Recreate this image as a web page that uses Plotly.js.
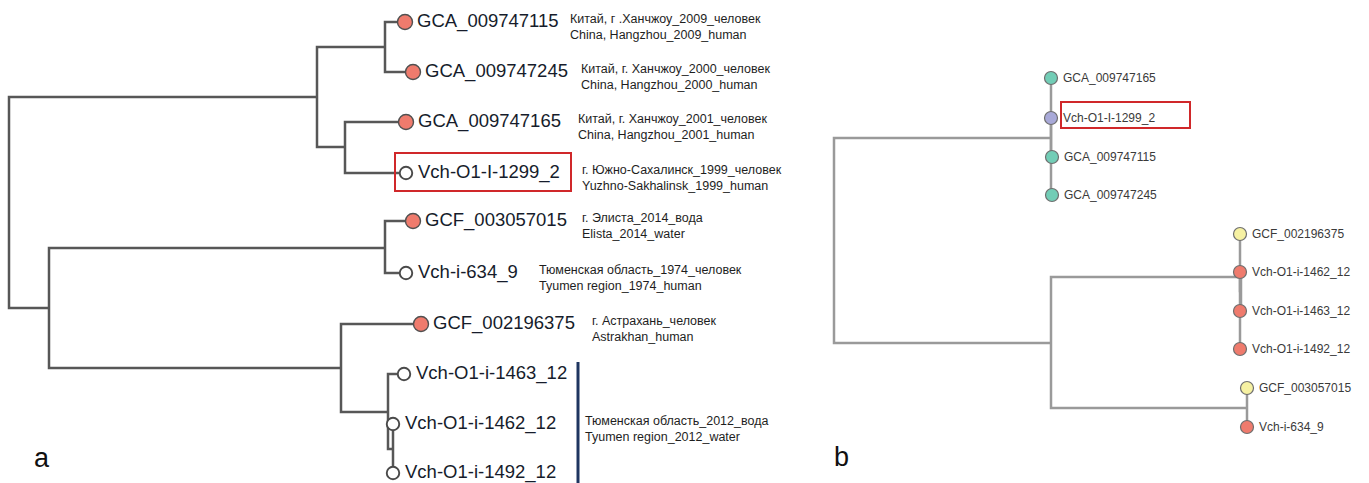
<!DOCTYPE html>
<html>
<head>
<meta charset="utf-8">
<script src="https://cdn.plot.ly/plotly-3.0.1.min.js"></script>
<style>
  html, body { margin: 0; padding: 0; background: #ffffff; }
  #chart { width: 1369px; height: 483px; }
</style>
</head>
<body>
<div id="chart"></div>
<script>
// ---- Tree a (rectangular cladogram, depth to the right, rows downward) ----
const aName = ['', '', '', '', '', '', '', '', '',
  'GCA_009747115', 'GCA_009747245', 'GCA_009747165', 'Vch-O1-I-1299_2',
  'GCF_003057015', 'Vch-i-634_9', 'GCF_002196375',
  'Vch-O1-i-1463_12', 'Vch-O1-i-1462_12', 'Vch-O1-i-1492_12'];
const aParent = [-1, 0, 1, 1, 0, 4, 4, 6, 7, 2, 2, 3, 3, 5, 5, 6, 7, 8, 8];
const aDepth = [9, 317, 385, 345, 49, 385, 341, 388, 393,
  405, 413, 406, 406, 413, 406, 421, 404, 393, 393];
const aRow = [200, 97, 47, 147, 308, 248, 368, 412, 449,
  22, 72, 122, 173, 221, 273, 324, 374, 424, 473];
// true = genome from the database (filled), false = own isolate (open)
const aFilled = [null, null, null, null, null, null, null, null, null,
  true, true, true, false, true, false, true, false, false, false];
const aDescRu = ['', '', '', '', '', '', '', '', '',
  'Китай, г .Ханчжоу_2009_человек', 'Китай, г. Ханчжоу_2000_человек',
  'Китай, г. Ханчжоу_2001_человек', 'г. Южно-Сахалинск_1999_человек',
  'г. Элиста_2014_вода', 'Тюменская область_1974_человек',
  'г. Астрахань_человек', '', 'Тюменская область_2012_вода', ''];
const aDescEn = ['', '', '', '', '', '', '', '', '',
  'China, Hangzhou_2009_human', 'China, Hangzhou_2000_human',
  'China, Hangzhou_2001_human', 'Yuzhno-Sakhalinsk_1999_human',
  'Elista_2014_water', 'Tyumen region_1974_human',
  'Astrakhan_human', '', 'Tyumen region_2012_water', ''];
// horizontal start of each description block
const aDescX = [0, 0, 0, 0, 0, 0, 0, 0, 0,
  568, 579, 576, 580, 580, 537, 590, 0, 583, 0];

// ---- Tree b ----
const bName = ['', '', '', '', '', '',
  'GCA_009747165', 'Vch-O1-I-1299_2', 'GCA_009747115', 'GCA_009747245',
  'GCF_002196375', 'Vch-O1-i-1462_12', 'Vch-O1-i-1463_12', 'Vch-O1-i-1492_12',
  'GCF_003057015', 'Vch-i-634_9'];
const bParent = [-1, 0, 0, 2, 3, 2, 1, 1, 1, 1, 3, 4, 4, 3, 5, 5];
const bDepth = [834, 1051, 1051, 1240, 1241, 1247,
  1051, 1051, 1052, 1052, 1240, 1240, 1240, 1240, 1247, 1247];
const bRow = [240, 138, 343, 277, 291, 408,
  78, 118, 157, 195, 234, 272, 311, 349, 388, 427];
const bGroup = ['', '', '', '', '', '',
  'china', 'sakhalin', 'china', 'china',
  'gcf', 'tyumen', 'tyumen', 'tyumen', 'gcf', 'tyumen'];

const groupColor = {
  china: '#72cdb6', sakhalin: '#a8a9d8', gcf: '#f6f1a2', tyumen: '#ef7b6d'
};

// L-shaped edges: down/up along the parent's depth, then across to the child
function edges(parent, depth, row) {
  const x = [], y = [];
  parent.forEach((p, i) => {
    if (p < 0) return;
    x.push(depth[p], depth[p], depth[i], null);
    y.push(row[p], row[i], row[i], null);
  });
  return { x, y };
}
function leaves(name) {
  return name.map((n, i) => n ? i : -1).filter(i => i >= 0);
}

const eA = edges(aParent, aDepth, aRow);
const eB = edges(bParent, bDepth, bRow);
const leafA = leaves(aName);
const leafB = leaves(bName);

const filledA = leafA.filter(i => aFilled[i]);
const openA = leafA.filter(i => !aFilled[i]);

const traces = [
  { type: 'scatter', mode: 'lines', x: eA.x, y: eA.y, hoverinfo: 'skip',
    line: { color: '#575757', width: 2.5 }, cliponaxis: false },
  { type: 'scatter', mode: 'lines', x: eB.x, y: eB.y, hoverinfo: 'skip',
    line: { color: '#9a9a9a', width: 2.5 }, cliponaxis: false },
  { type: 'scatter', mode: 'markers', cliponaxis: false,
    x: filledA.map(i => aDepth[i]), y: filledA.map(i => aRow[i]),
    marker: { size: 15, color: '#ef7b6d', line: { color: '#505050', width: 1.4 } } },
  { type: 'scatter', mode: 'markers', cliponaxis: false,
    x: openA.map(i => aDepth[i]), y: openA.map(i => aRow[i]),
    marker: { size: 12.5, color: '#ffffff', line: { color: '#4a4a4a', width: 1.9 } } },
  { type: 'scatter', mode: 'markers', cliponaxis: false,
    x: leafB.map(i => bDepth[i]), y: leafB.map(i => bRow[i]),
    marker: { size: 13, color: leafB.map(i => groupColor[bGroup[i]]),
      line: { color: '#6e6e6e', width: 1.2 } } }
];

const annotations = [];
leafA.forEach(i => {
  annotations.push({
    x: aDepth[i], y: aRow[i], xref: 'x', yref: 'y', text: aName[i],
    showarrow: false, xanchor: 'left', yanchor: 'middle', xshift: 10, yshift: 1,
    font: { family: 'Liberation Sans, Arial, sans-serif', size: 18.5, color: '#161c2b' }
  });
  if (aDescRu[i]) {
    annotations.push({
      x: aDescX[i], y: aRow[i], xref: 'x', yref: 'y',
      text: aDescRu[i] + '<br>' + aDescEn[i], align: 'left',
      showarrow: false, xanchor: 'left', yanchor: 'top', yshift: 12,
      font: { family: 'Liberation Sans Narrow, Arial Narrow, Liberation Sans, sans-serif',
        size: 12.5, color: '#1e1e1e' }
    });
  }
});
leafB.forEach(i => {
  annotations.push({
    x: bDepth[i], y: bRow[i], xref: 'x', yref: 'y', text: bName[i],
    showarrow: false, xanchor: 'left', yanchor: 'middle', xshift: 10,
    font: { family: 'Liberation Sans, Arial, sans-serif', size: 12, color: '#3a3a3a' }
  });
});
// panel letters
annotations.push(
  { x: 42, y: 458, xref: 'x', yref: 'y', text: 'a', showarrow: false,
    font: { family: 'Liberation Sans, Arial, sans-serif', size: 27, color: '#111111' } },
  { x: 841, y: 457, xref: 'x', yref: 'y', text: 'b', showarrow: false,
    font: { family: 'Liberation Sans, Arial, sans-serif', size: 27, color: '#111111' } }
);

const shapes = [
  // highlighted own isolate, tree a
  { type: 'rect', xref: 'x', yref: 'y', x0: 395, x1: 571, y0: 153, y1: 191,
    line: { color: '#d0282a', width: 2 } },
  // highlighted own isolate, tree b
  { type: 'rect', xref: 'x', yref: 'y', x0: 1061, x1: 1190, y0: 102, y1: 128,
    line: { color: '#d0282a', width: 2 } },
  // bracket for the 2012 water isolates
  { type: 'line', xref: 'x', yref: 'y', x0: 578, x1: 578, y0: 362, y1: 485,
    line: { color: '#1f3560', width: 3 } }
];

const layout = {
  width: 1369, height: 483,
  margin: { l: 0, r: 0, t: 0, b: 0 },
  paper_bgcolor: '#ffffff', plot_bgcolor: '#ffffff',
  showlegend: false,
  xaxis: { range: [0, 1369], visible: false, fixedrange: true },
  yaxis: { range: [483, 0], visible: false, fixedrange: true },
  annotations, shapes
};

Plotly.newPlot('chart', traces, layout, { displayModeBar: false, staticPlot: true });
</script>
</body>
</html>
